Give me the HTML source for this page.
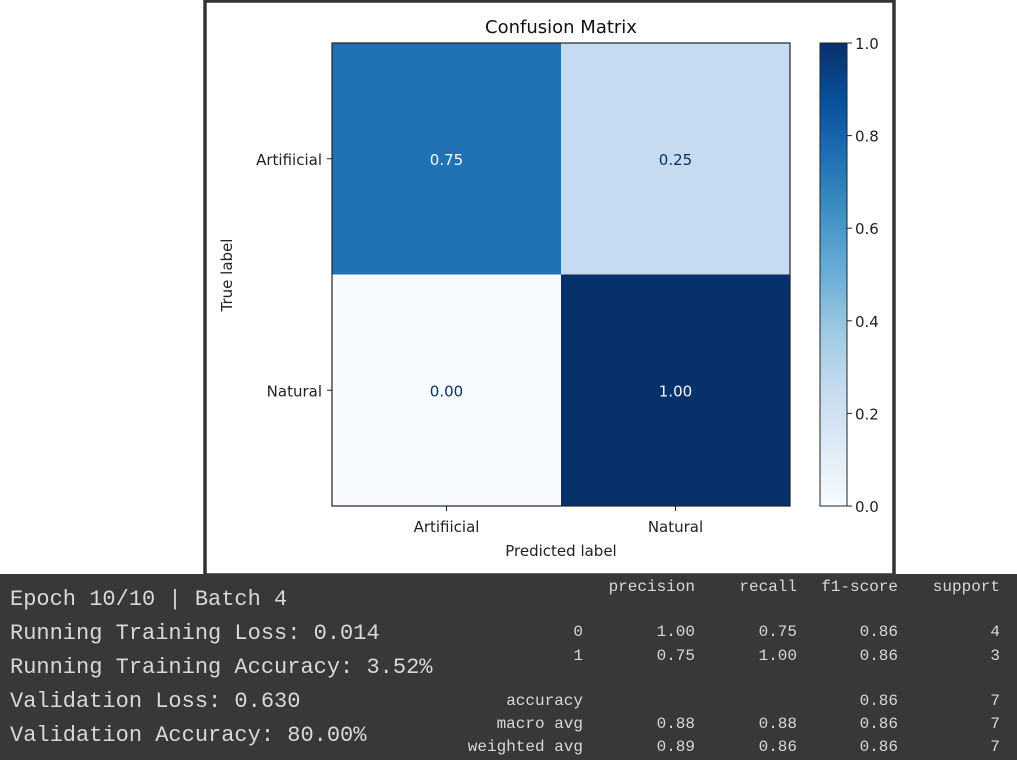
<!DOCTYPE html>
<html><head><meta charset="utf-8"><style>
body{margin:0;width:1017px;height:760px;background:#fff;position:relative;overflow:hidden;font-family:"DejaVu Sans","Liberation Sans",sans-serif}
#panel{position:absolute;left:0;top:574px;width:1017px;height:186px;background:#383838;color:#d8d8d8;font-family:"Liberation Mono",monospace}
.l{position:absolute;left:10px;font-size:22px;white-space:pre}
.t{position:absolute;font-size:16px;white-space:pre;text-align:right}
</style></head><body>
<svg width="1017" height="574" style="position:absolute;left:0;top:0">
<rect x="205" y="1" width="689" height="574" fill="#fff" stroke="#333" stroke-width="3.5"/>
<g id="chart"></g>
</svg>
<div id="panel">
<div class="l" style="top:13px">Epoch 10/10 | Batch 4</div>
<div class="l" style="top:47px">Running Training Loss: 0.014</div>
<div class="l" style="top:81px">Running Training Accuracy: 3.52%</div>
<div class="l" style="top:115px">Validation Loss: 0.630</div>
<div class="l" style="top:149px">Validation Accuracy: 80.00%</div>
<div id="report"></div>
</div>
<script>
const classes=["Artifiicial","Natural"];
const matrix=[[0.75,0.25],[0.00,1.00]];
const cbTicks=[0,0.2,0.4,0.6,0.8,1.0];
const NS="http://www.w3.org/2000/svg";
const g=document.getElementById('chart');
function mk(t,a,txt){const e=document.createElementNS(NS,t);for(const k in a)e.setAttribute(k,a[k]);if(txt!==undefined)e.textContent=txt;g.appendChild(e);return e;}
const X0=332,Y0=43,W=458,H=463,cw=W/2,ch=H/2;
const stops=[[0,[247,251,255]],[0.125,[222,235,247]],[0.25,[198,219,239]],[0.375,[158,202,225]],[0.5,[107,174,214]],[0.625,[66,146,198]],[0.75,[33,113,181]],[0.875,[8,81,156]],[1,[8,48,107]]];
function col(v){for(let i=0;i<stops.length-1;i++){const[a,ca]=stops[i],[b,cb]=stops[i+1];if(v<=b){const t=(v-a)/(b-a);return 'rgb('+ca.map((c,j)=>Math.round(c+(cb[j]-c)*t)).join(',')+')';}}return 'rgb(8,48,107)';}
const xs=i=>X0+i*cw, ys=i=>Y0+i*ch;
let e=mk('text',{x:561,y:33,'text-anchor':'middle','font-size':18,fill:'#111'},'Confusion Matrix');

matrix.forEach((row,r)=>row.forEach((v,c)=>{
 const rc=mk('rect',{x:xs(c),y:ys(r),width:cw,height:ch,fill:col(v)});
 
 const t=mk('text',{x:xs(c)+cw/2,y:ys(r)+ch/2+6,'text-anchor':'middle','font-size':15,fill:v>0.5?'#f7fbff':'#08306b'},v.toFixed(2));
 
}));
e=mk('rect',{x:X0,y:Y0,width:W,height:H,fill:'none',stroke:'#222','stroke-width':1.2});

classes.forEach((c,i)=>{
 mk('line',{x1:X0-5,x2:X0,y1:ys(i)+ch/2,y2:ys(i)+ch/2,stroke:'#222'});
 let t=mk('text',{x:X0-10,y:ys(i)+ch/2+6,'text-anchor':'end','font-size':15,fill:'#222'},c);
 
 mk('line',{x1:xs(i)+cw/2,x2:xs(i)+cw/2,y1:Y0+H,y2:Y0+H+5,stroke:'#222'});
 t=mk('text',{x:xs(i)+cw/2,y:Y0+H+26,'text-anchor':'middle','font-size':15,fill:'#222'},c);
 
});
e=mk('text',{x:561,y:556,'text-anchor':'middle','font-size':15,fill:'#222'},'Predicted label');

e=mk('text',{x:232,y:275,'text-anchor':'middle','font-size':15,fill:'#222',transform:'rotate(-90 232 275)'},'True label');

const CX=820,CW=27;const cy=v=>Y0+H-v*H;
const defs=mk('defs',{});const lg=document.createElementNS(NS,'linearGradient');lg.setAttribute('id','cb');lg.setAttribute('x1',0);lg.setAttribute('y1',1);lg.setAttribute('x2',0);lg.setAttribute('y2',0);
stops.forEach(s=>{const st=document.createElementNS(NS,'stop');st.setAttribute('offset',s[0]);st.setAttribute('stop-color','rgb('+s[1].join(',')+')');lg.appendChild(st);});defs.appendChild(lg);
e=mk('rect',{x:CX,y:Y0,width:CW,height:H,fill:'url(#cb)',stroke:'#222','stroke-width':1});

cbTicks.forEach(v=>{mk('line',{x1:CX+CW,x2:CX+CW+5,y1:cy(v),y2:cy(v),stroke:'#222'});
 const t=mk('text',{x:CX+CW+8,y:cy(v)+6,'font-size':15,fill:'#222'},v.toFixed(1));
 });
const rep=[["","precision","recall","f1-score","support",16],["0","1.00","0.75","0.86","4",61],["1","0.75","1.00","0.86","3",85],["accuracy","","","0.86","7",130],["macro avg","0.88","0.88","0.86","7",153],["weighted avg","0.89","0.86","0.86","7",176]];
const colR=[583,695,797,898,1000];
const R=document.getElementById('report');
rep.forEach(r=>{for(let i=0;i<5;i++){if(!r[i])continue;const d=document.createElement('div');d.className='t';d.textContent=r[i];d.style.right=(1017-colR[i])+'px';d.style.top=(r[5]-12)+'px';


R.appendChild(d);}});
</script>
</body></html>
